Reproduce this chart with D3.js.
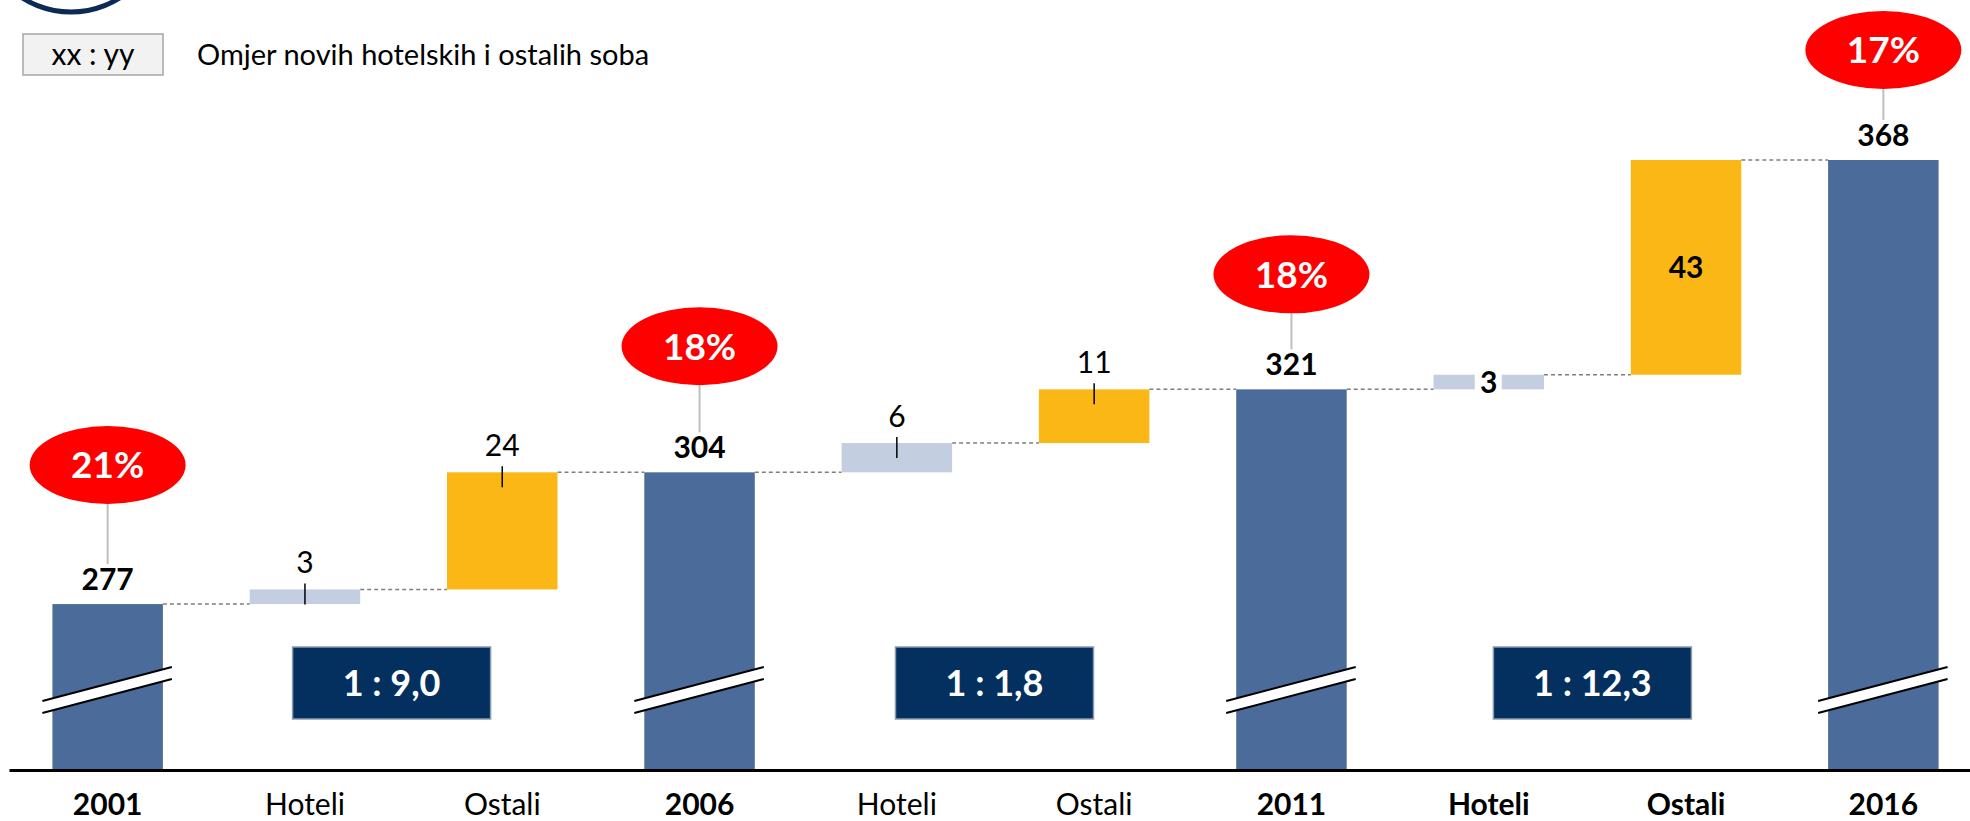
<!DOCTYPE html>
<html>
<head>
<meta charset="utf-8">
<script src="https://cdn.jsdelivr.net/npm/d3@7"></script>
<style>
  body { margin: 0; background: #fff; }
  svg { display: block; font-family: Lato, "Open Sans", sans-serif; }
</style>
</head>
<body>
<svg width="1970" height="821"></svg>
<script>
// chart data
const categories = ["2001", "Hoteli", "Ostali", "2006", "Hoteli", "Ostali", "2011", "Hoteli", "Ostali", "2016"];
const kinds = ["total", "hotel", "other", "total", "hotel", "other", "total", "hotel", "other", "total"];
const values = [277, 3, 24, 304, 6, 11, 321, 3, 43, 368];
const shares = ["21%", "18%", "18%", "17%"];
const ratios = ["1 : 9,0", "1 : 1,8", "1 : 12,3"];

// layout
const width = 1970;
const height = 821;
const axisY = 770;
const boldLabels = [0, 3, 6, 7, 8, 9];
const calloutLift = [139, 126, 115, 110];
const ratioShift = [-12, -1, 5];
const colors = { total: "#4B6B9A", hotel: "#C3CEE1", other: "#FBB715" };

const svg = d3.select("svg");

const x = d3
  .scaleBand()
  .domain(categories.map((d, i) => i))
  .range([9, 1982])
  .paddingInner(0.44)
  .paddingOuter(0.22);

// broken axis: the bars start far above zero
const y = d3.scaleLinear().domain([243, 368]).range([axisY, 160]);

// work out where every bar starts and ends
let level = 0;
const bars = values.map((v, i) => {
  let start, end;
  if (kinds[i] === "total") {
    start = y.domain()[0];
    end = v;
  } else {
    start = level;
    end = kinds[i + 1] === "total" ? values[i + 1] : level + v;
  }
  level = end;
  return { i, kind: kinds[i], value: v, start, end };
});

// header remains (cut off at the top)
svg.append("circle")
  .attr("cx", 71).attr("cy", -79).attr("r", 91)
  .attr("fill", "none").attr("stroke", "#0B2A55").attr("stroke-width", 5);

// legend
svg.append("rect")
  .attr("x", 23).attr("y", 34).attr("width", 140).attr("height", 41)
  .attr("fill", "#F2F2F2").attr("stroke", "#A6A6A6").attr("stroke-width", 1.5);
svg.append("text")
  .attr("x", 93).attr("y", 65).attr("text-anchor", "middle")
  .attr("font-size", 30).text("xx : yy");
svg.append("text")
  .attr("x", 197).attr("y", 65)
  .attr("font-size", 29).text("Omjer novih hotelskih i ostalih soba");

// dashed connectors between bars
svg.selectAll(".connector")
  .data(bars.slice(0, -1))
  .enter()
  .append("line")
  .attr("x1", (d) => x(d.i) + x.bandwidth())
  .attr("x2", (d) => x(d.i + 1))
  .attr("y1", (d) => y(d.end))
  .attr("y2", (d) => y(d.end))
  .attr("stroke", "#7F7F7F")
  .attr("stroke-width", 1.5)
  .attr("stroke-dasharray", "4,3");

// bars
svg.selectAll(".bar")
  .data(bars)
  .enter()
  .append("rect")
  .attr("x", (d) => x(d.i))
  .attr("width", x.bandwidth())
  .attr("y", (d) => y(Math.max(d.start, d.end)))
  .attr("height", (d) => Math.abs(y(d.start) - y(d.end)))
  .attr("fill", (d) => colors[d.kind]);

const totals = bars.filter((d) => d.kind === "total");
const deltas = bars.filter((d) => d.kind !== "total");

// axis break marks on the total bars
totals.forEach((d) => {
  const x0 = x(d.i) - 10;
  const x1 = x(d.i) + x.bandwidth() + 9;
  const g = svg.append("g");
  g.append("polygon")
    .attr("points", `${x0},701 ${x1},667 ${x1},679 ${x0},713`)
    .attr("fill", "#fff");
  [0, 12].forEach((off) => {
    g.append("line")
      .attr("x1", x0).attr("y1", 701 + off)
      .attr("x2", x1).attr("y2", 667 + off)
      .attr("stroke", "#000").attr("stroke-width", 2);
  });
});

// total labels
svg.selectAll(".total-label")
  .data(totals)
  .enter()
  .append("text")
  .attr("x", (d) => x(d.i) + x.bandwidth() / 2)
  .attr("y", (d) => y(d.end) - 14)
  .attr("text-anchor", "middle")
  .attr("font-size", 30)
  .attr("font-weight", "bold")
  .text((d) => d.value);

// red callouts with the share
totals.forEach((d, k) => {
  const cx = x(d.i) + x.bandwidth() / 2;
  const cy = y(d.end) - calloutLift[k];
  svg.append("line")
    .attr("x1", cx).attr("x2", cx)
    .attr("y1", cy + 39).attr("y2", y(d.end) - 40)
    .attr("stroke", "#BFBFBF").attr("stroke-width", 2);
  svg.append("ellipse")
    .attr("cx", cx).attr("cy", cy).attr("rx", 78).attr("ry", 39)
    .attr("fill", "#FF0000");
  svg.append("text")
    .attr("x", cx).attr("y", cy).attr("dy", "0.36em")
    .attr("text-anchor", "middle")
    .attr("font-size", 37).attr("font-weight", "bold")
    .attr("fill", "#fff")
    .text(shares[k]);
});

// labels of the increments
deltas.forEach((d) => {
  const cx = x(d.i) + x.bandwidth() / 2;
  const top = y(d.end);
  const group = Math.floor(d.i / 3);
  if (group < 2) {
    svg.append("line")
      .attr("x1", cx).attr("x2", cx)
      .attr("y1", top - 6).attr("y2", top + 15)
      .attr("stroke", "#000").attr("stroke-width", 1.5);
    svg.append("text")
      .attr("x", cx).attr("y", top - 16)
      .attr("text-anchor", "middle")
      .attr("font-size", 30)
      .text(d.value);
  } else {
    const mid = (y(d.start) + y(d.end)) / 2;
    if (d.kind === "hotel") {
      svg.append("rect")
        .attr("x", cx - 14).attr("y", top - 1)
        .attr("width", 27).attr("height", y(d.start) - top + 2)
        .attr("fill", "#fff");
    }
    svg.append("text")
      .attr("x", cx).attr("y", mid).attr("dy", "0.36em")
      .attr("text-anchor", "middle")
      .attr("font-size", 30).attr("font-weight", "bold")
      .text(d.value);
  }
});

// ratio boxes between Hoteli and Ostali
ratios.forEach((r, k) => {
  const cx = (x(3 * k + 1) + x(3 * k + 2) + x.bandwidth()) / 2 + ratioShift[k];
  svg.append("rect")
    .attr("x", cx - 99).attr("y", 647).attr("width", 198).attr("height", 72)
    .attr("fill", "#03305F").attr("stroke", "#8A9BB0").attr("stroke-width", 1.5);
  svg.append("text")
    .attr("x", cx).attr("y", 683).attr("dy", "0.36em")
    .attr("text-anchor", "middle")
    .attr("font-size", 36).attr("font-weight", "bold")
    .attr("fill", "#fff")
    .attr("xml:space", "preserve")
    .text(r);
});

// x axis
const axis = svg.append("g")
  .attr("transform", "translate(0," + axisY + ")")
  .call(
    d3.axisBottom(x)
      .tickSize(0)
      .tickPadding(24)
      .tickFormat((i) => categories[i])
  );
axis.select(".domain").attr("stroke", "#000").attr("stroke-width", 3);
axis.selectAll(".tick text")
  .attr("font-family", "Lato, sans-serif")
  .attr("font-size", 30)
  .attr("fill", "#000")
  .attr("font-weight", (i) => (boldLabels.includes(i) ? "bold" : "normal"));
</script>
</body>
</html>
